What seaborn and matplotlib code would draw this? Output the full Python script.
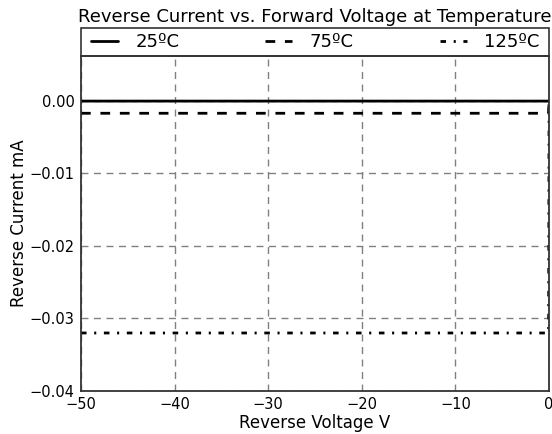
import numpy as np
import pandas as pd
import matplotlib
matplotlib.use("Agg")
import matplotlib.pyplot as plt
from matplotlib.patches import Rectangle
import seaborn as sns

# Data
voltage = [-50, -40, -30, -20, -10, -1, -0.05, 0]
current_25 = [-0.00002, -0.00002, -0.00002, -0.00002, -0.00002, -0.00002, -0.00002, 0.0]
current_75 = [-0.0017, -0.0017, -0.0017, -0.0017, -0.0017, -0.0017, -0.0017, 0.0]
current_125 = [-0.032, -0.032, -0.032, -0.032, -0.032, -0.032, -0.032, 0.0]
labels = ["25ºC", "75ºC", "125ºC"]
x_ticks = [-50, -40, -30, -20, -10, 0]
y_ticks = [-0.04, -0.03, -0.02, -0.01, 0.00]

rows = []
for lab, cur in zip(labels, [current_25, current_75, current_125]):
    for v, c in zip(voltage, cur):
        rows.append({"V": v, "I": c, "T": lab})
df = pd.DataFrame(rows)

sns.set_theme(style="white")
plt.rcParams["font.family"] = ["DejaVu Sans"]
plt.rcParams["text.color"] = "black"
plt.rcParams["axes.labelcolor"] = "black"

fig = plt.figure(figsize=(5.52, 4.34), dpi=100)
ax = fig.add_axes([0.1467, 0.0991, 0.848, 0.7719])

sns.lineplot(data=df, x="V", y="I", style="T", hue="T",
             palette=["black", "black", "black"],
             dashes={"25ºC": "", "75ºC": (3.5, 3.5), "125ºC": (2.0, 2.75, 0.75, 2.75)},
             linewidth=2, ax=ax, legend=True, sort=False)

ax.set_xlim(-50, 0)
ax.set_ylim(-0.04, 0.0062)
ax.set_xticks(x_ticks)
ax.set_xticklabels([f"{t:d}".replace("-", "\u2212") for t in x_ticks])
ax.set_yticks(y_ticks)
ax.set_yticklabels([f"{t:.2f}".replace("-", "\u2212") for t in y_ticks])
ax.tick_params(axis="both", direction="out", length=3, width=1, labelsize=10.5, pad=1.5,
               color="#333333", labelcolor="black")
ax.grid(True, linestyle=(0, (5, 4)), color="gray", linewidth=1)
ax.set_axisbelow(True)
for s in ax.spines.values():
    s.set_color("#333333")
    s.set_linewidth(1.3)

ax.set_xlabel("Reverse Voltage V", fontsize=12, labelpad=1)
ax.set_ylabel("Reverse Current mA", fontsize=12, labelpad=1)

# legend frame drawn separately as a box on top of the axes
leg_h = 0.0836
ax.add_patch(Rectangle((0, 1), 1, leg_h, transform=ax.transAxes, fill=False,
                       edgecolor="#333333", linewidth=1.2, clip_on=False))
handles, labs = ax.get_legend_handles_labels()
leg = ax.legend(handles, labs, loc="center", bbox_to_anchor=(0, 1.0, 1, leg_h),
                mode="expand", ncol=3, borderaxespad=0, frameon=False,
                fontsize=13, handlelength=1.5, handletextpad=0.95, borderpad=0.55)

ax.set_title("Reverse Current vs. Forward Voltage at Temperature", fontsize=13,
             y=1.0836, pad=4, color="black")

fig.savefig("out.png", dpi=100)
